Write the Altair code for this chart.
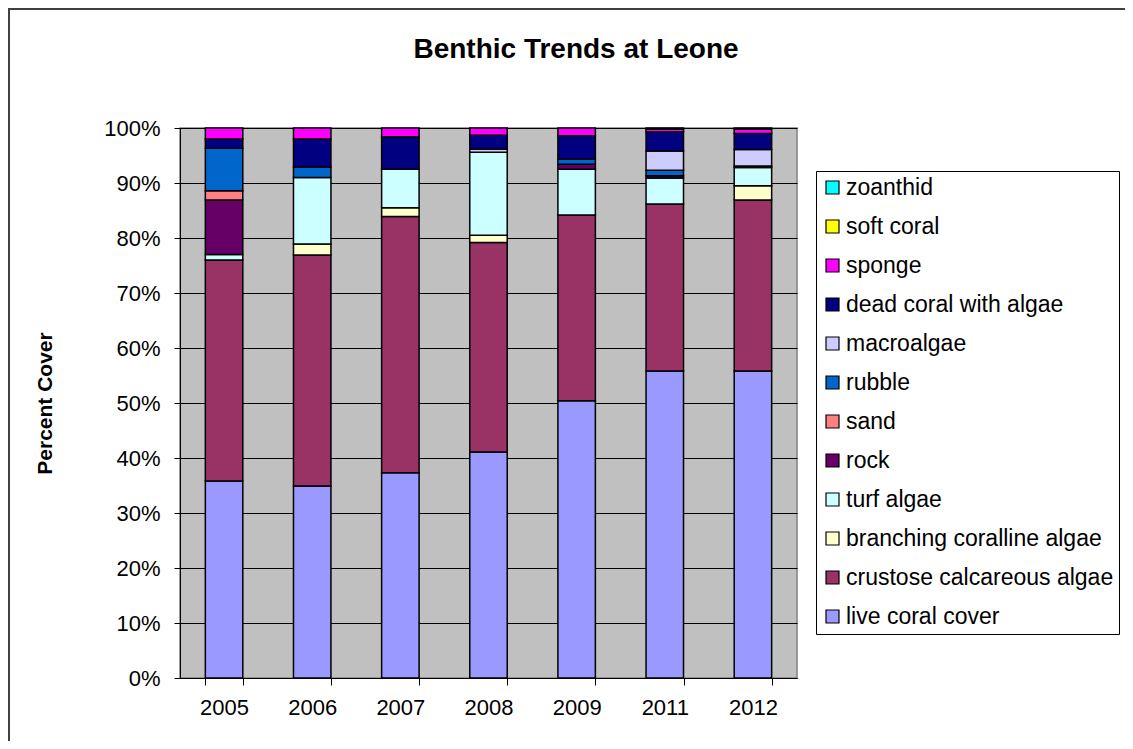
import altair as alt
import pandas as pd

years = ["2005", "2006", "2007", "2008", "2009", "2011", "2012"]

# stacking order, bottom to top
categories = [
    "live coral cover", "crustose calcareous algae", "branching coralline algae",
    "turf algae", "rock", "sand", "rubble", "macroalgae",
    "dead coral with algae", "sponge", "soft coral", "zoanthid",
]
colors = [
    "#9999FF", "#993366", "#FFFFCC", "#CCFFFF", "#660066", "#FF8080",
    "#0066CC", "#CCCCFF", "#000080", "#FF00FF", "#FFFF00", "#00FFFF",
]

live_coral_cover = [35.8, 34.9, 37.3, 41.1, 50.4, 55.8, 55.8]
crustose_calcareous_algae = [40.2, 42.0, 46.6, 38.1, 33.8, 30.4, 31.1]
branching_coralline_algae = [0.0, 2.0, 1.6, 1.3, 0.0, 0.0, 2.6]
turf_algae = [1.0, 12.1, 7.0, 15.1, 8.3, 4.7, 3.3]
rock = [9.9, 0.0, 0.0, 0.0, 0.9, 0.4, 0.3]
sand = [1.7, 0.0, 0.0, 0.0, 0.0, 0.0, 0.0]
rubble = [7.7, 1.9, 0.0, 0.0, 0.9, 1.0, 0.0]
macroalgae = [0.0, 0.0, 0.0, 0.6, 0.0, 3.5, 3.0]
dead_coral_with_algae = [1.7, 5.1, 5.9, 2.5, 4.3, 3.5, 2.9]
sponge = [2.0, 2.0, 1.6, 1.3, 1.4, 0.5, 0.8]
soft_coral = [0.0, 0.0, 0.0, 0.0, 0.0, 0.2, 0.2]
zoanthid = [0.0, 0.0, 0.0, 0.0, 0.0, 0.0, 0.0]

series = [
    live_coral_cover, crustose_calcareous_algae, branching_coralline_algae,
    turf_algae, rock, sand, rubble, macroalgae, dead_coral_with_algae,
    sponge, soft_coral, zoanthid,
]

chart_title = ["Benthic Trends at Leone"]

rows = []
for i, (cat, vals) in enumerate(zip(categories, series)):
    for yr, v in zip(years, vals):
        rows.append({"year": yr, "category": cat, "order": i, "value": v})
df = pd.DataFrame(rows)

FONT = "Liberation Sans"

bars = (
    alt.Chart(df)
    .transform_filter("datum.value > 0")
    .mark_bar(stroke="black", strokeWidth=1.5)
    .encode(
        x=alt.X(
            "year:N",
            sort=years,
            scale=alt.Scale(paddingInner=0.575, paddingOuter=0.2875),
            axis=alt.Axis(
                title=None, labelAngle=0, tickBand="extent", tickSize=7,
                tickColor="black", domainColor="black", labelFont=FONT,
                labelFontSize=22, labelColor="black", labelPadding=12,
            ),
        ),
        y=alt.Y(
            "value:Q",
            stack="zero",
            scale=alt.Scale(domain=[0, 100], nice=False),
            axis=alt.Axis(
                title="Percent Cover", values=list(range(0, 101, 10)),
                labelExpr="datum.value + '%'", tickSize=6, tickColor="black",
                domainColor="black", gridColor="black", gridWidth=1,
                labelFont=FONT, labelFontSize=22, labelColor="black",
                labelPadding=14, titleFont=FONT, titleFontSize=21,
                titleFontWeight="bold", titleColor="black",
                titleX=-135, titleY=275, titleBaseline="middle", titleAngle=270,
            ),
        ),
        color=alt.Color(
            "category:N",
            scale=alt.Scale(domain=categories[::-1], range=colors[::-1]),
            legend=alt.Legend(
                title=None, orient="none", legendX=636, legendY=43,
                direction="vertical", symbolType="square", symbolSize=169,
                symbolStrokeColor="black", symbolStrokeWidth=1.2,
                labelFont=FONT, labelFontSize=23, labelColor="black",
                labelLimit=500, rowPadding=15, labelOffset=2, padding=5,
                strokeColor="black", fillColor="white",
            ),
        ),
        order=alt.Order("order:Q", sort="ascending"),
    )
)

title_layer = (
    alt.Chart(pd.DataFrame({"t": chart_title}))
    .mark_text(font=FONT, fontSize=28, fontWeight="bold", color="black",
               align="center", baseline="alphabetic")
    .encode(text="t:N", x=alt.value(396), y=alt.value(-70))
)

border = (
    alt.Chart(pd.DataFrame({"k": [0]}))
    .mark_rect(fill="transparent", stroke="#404040", strokeWidth=2)
    .encode(
        x=alt.value(-171), x2=alt.value(1200),
        y=alt.value(-119), y2=alt.value(900),
    )
)

chart = (
    alt.layer(border, bars, title_layer)
    .properties(
        width=617,
        height=550,
        autosize=alt.AutoSizeParams(type="none"),
        padding={"left": 172, "top": 120, "right": 328, "bottom": 63},
    )
    .configure_view(fill="#C0C0C0", stroke="#808080", strokeWidth=1.5)
)

chart.save("out.html", embed_options={"renderer": "svg", "actions": False})
